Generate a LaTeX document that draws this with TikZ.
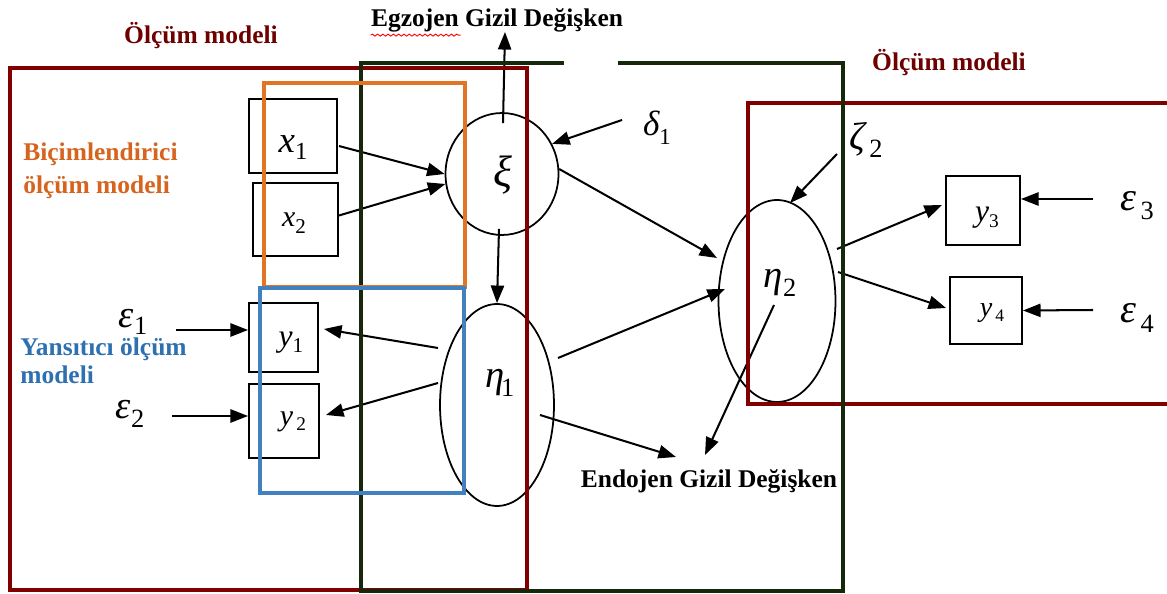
\documentclass[tikz,border=0pt]{standalone}
\usepackage{fontspec}
\setmainfont{Liberation Serif}
\usetikzlibrary{arrows.meta,shapes.geometric,calc,decorations.pathmorphing}
\definecolor{dred}{RGB}{128,0,0}
\definecolor{dgreen}{RGB}{22,40,12}
\definecolor{orng}{RGB}{226,116,38}
\definecolor{blu}{RGB}{66,128,192}
\definecolor{orngtxt}{RGB}{214,100,30}
\definecolor{blutxt}{RGB}{46,112,176}
\definecolor{redtxt}{RGB}{110,0,0}
\newcommand\gl[5]{{\fontsize{#1}{#1}\selectfont\itshape #3}\raisebox{#5}{\fontsize{#2}{#2}\selectfont #4}}
\begin{document}
\begin{tikzpicture}[x=0.02cm,y=-0.02cm,
  arr/.style={line width=1.15pt,-{Triangle[length=10pt,width=7.5pt]}},
  box/.style={draw,line width=1.1pt,inner sep=0pt},
  lat/.style={draw,ellipse,line width=1pt,inner sep=0pt},
  lbl/.style={font=\bfseries\fontsize{14.5}{17}\selectfont,inner sep=0pt},
  sym/.style={inner sep=0pt},
  frame/.style={line width=2.3pt}]
\useasboundingbox (0,0) rectangle (1167,594);

% boxes
\node[box,minimum width=1.76cm,minimum height=1.48cm] (x1) at (293,136) {};
\node[box,minimum width=1.70cm,minimum height=1.46cm] (x2) at (295.5,219.5) {};
\node[box,minimum width=1.38cm,minimum height=1.38cm] (y1) at (283.5,337.5) {};
\node[box,minimum width=1.40cm,minimum height=1.48cm] (y2) at (284,421) {};
\node[box,minimum width=1.48cm,minimum height=1.38cm] (y3) at (983,210.5) {};
\node[box,minimum width=1.44cm,minimum height=1.34cm] (y4) at (986,310.5) {};

% latent variables
\node[lat,minimum width=2.26cm,minimum height=2.44cm] (xi) at (502,174) {};
\node[lat,minimum width=2.28cm,minimum height=4.04cm] (eta1) at (497,405) {};
\node[lat,minimum width=2.34cm,minimum height=4.04cm] (eta2) at (777,301) {};

% symbols
\node[sym] (tx1) at (293,148) {\gl{21}{14}{x}{1}{-4pt}};
\node[sym] (tx2) at (294,223) {\gl{17}{12}{x}{2}{-4pt}};
\node[sym] (ty1) at (291,343) {\gl{18}{12}{y}{1}{-3pt}};
\node[sym] (ty2) at (293,422) {\gl{17}{11}{y}{\,2}{-3pt}};
\node[sym] (ty3) at (987,218) {\gl{18}{11}{y}{3}{-3pt}};
\node[sym] (ty4) at (992,313) {\gl{16}{10}{y}{\,4}{-3pt}};
\node[sym] (txi) at (503,175) {{\fontsize{25}{25}\selectfont\itshape ξ}};
\node[sym] (teta1) at (500,383) {\gl{22}{15}{η}{\kern-2pt1}{-5pt}};
\node[sym] (teta2) at (780,283) {\gl{22}{15}{η}{2}{-5pt}};
\node[sym] (d1) at (657,128) {\gl{20}{13}{δ}{1}{-5pt}};
\node[sym] (z2) at (866,140) {\gl{22}{15}{ζ}{\,2}{-5pt}};
\node[sym] (e1) at (133,322) {\gl{22}{15}{ε}{1}{-4pt}};
\node[sym] (e2) at (130,414) {\gl{22}{15}{ε}{2}{-5pt}};
\node[sym] (e3) at (1137,206) {\gl{23}{15}{ε}{\,3}{-5pt}};
\node[sym] (e4) at (1137,318) {\gl{23}{15}{ε}{\,4}{-6pt}};

% text labels
\node[lbl] (egz) at (497,20) {Egzojen Gizil Değişken};
\node[lbl] (endo) at (709,481) {Endojen Gizil Değişken};
\node[lbl,text=redtxt] (olc1) at (201,36) {Ölçüm modeli};
\node[lbl,text=redtxt] (olc2) at (949,63) {Ölçüm modeli};
\node[lbl,text=orngtxt,anchor=west,align=left,font=\bfseries\fontsize{14.5}{18.7}\selectfont] (bic) at (23,171) {Biçimlendirici\\ölçüm modeli};
\node[lbl,text=blutxt,anchor=west,align=left,font=\bfseries\fontsize{14.5}{16}\selectfont] (yan) at (20,361) {Yansıtıcı ölçüm\\modeli};
\draw[red,line width=0.5pt,decorate,decoration={snake,amplitude=0.6pt,segment length=3pt}]
  ($(egz.south west)+(0,3)$) -- ($(egz.south west)+(90,3)$);

% free ends
\coordinate (d1s) at (622,120);
\coordinate (z2s) at (837,154);
\coordinate (e1s) at (176,330);
\coordinate (e2s) at (172,416);
\coordinate (e3s) at (1093,199);
\coordinate (e4s) at (1093,310);

% connectors
\draw[arr] ($(x1.east)+(1,10)$) -- (xi.180);
\draw[arr] ($(x2.east)+(0,-4)$) -- (xi.190);
\draw[arr] ($(xi.north)+(1,11)$) -- ($(egz.center)+(8,12)$);
\draw[arr] (d1s) -- (xi.31);
\draw[arr] (xi.5) -- ($(eta2.center)+(-60,-43)$);
\draw[arr] ($(xi.south)+(-3,-7)$) -- (eta1.north);
\draw[arr] ($(eta1.center)+(-59,-57)$) -- ($(y1.east)+(5,-8.5)$);
\draw[arr] ($(eta1.center)+(-59,-22)$) -- ($(y2.east)+(6,-6)$);
\draw[arr] (e1s) -- ($(y1.west)+(0,-7.5)$);
\draw[arr] (e2s) -- ($(y2.west)+(0,-5)$);
\draw[arr] ($(eta1.center)+(61,-47)$) -- ($(eta2.center)+(-52,-12)$);
\draw[arr] ($(eta1.center)+(43,10)$) -- ($(endo.center)+(-33,-24)$);
\draw[arr] ($(eta2.center)+(-3,4)$) -- ($(endo.center)+(-4,-26)$);
\draw[arr] (z2s) -- ($(eta2.center)+(13,-98)$);
\draw[arr] ($(eta2.center)+(60,-52)$) -- ($(y3.west)+(-3,-5.5)$);
\draw[arr] ($(eta2.center)+(61,-29)$) -- ($(y4.west)+(-3,-2.5)$);
\draw[arr] (e3s) -- ($(y3.east)+(0,-11.5)$);
\draw[arr] (e4s) -- (y4.east);

% coloured frames
\draw[frame,dred] (10,68) rectangle (527,590);
\draw[frame,dred] (1167,103) -- (748,103) -- (748,404) -- (1167,404);
\draw[frame,dgreen,line width=2.2pt] (564,63) -- (361,63) -- (361,591) -- (843,591) -- (843,63) -- (618,63);
\draw[orng,line width=2.8pt] (264,83) rectangle (465,287);
\draw[blu,line width=2.8pt] (260,288) rectangle (464,493);
\end{tikzpicture}
\end{document}
